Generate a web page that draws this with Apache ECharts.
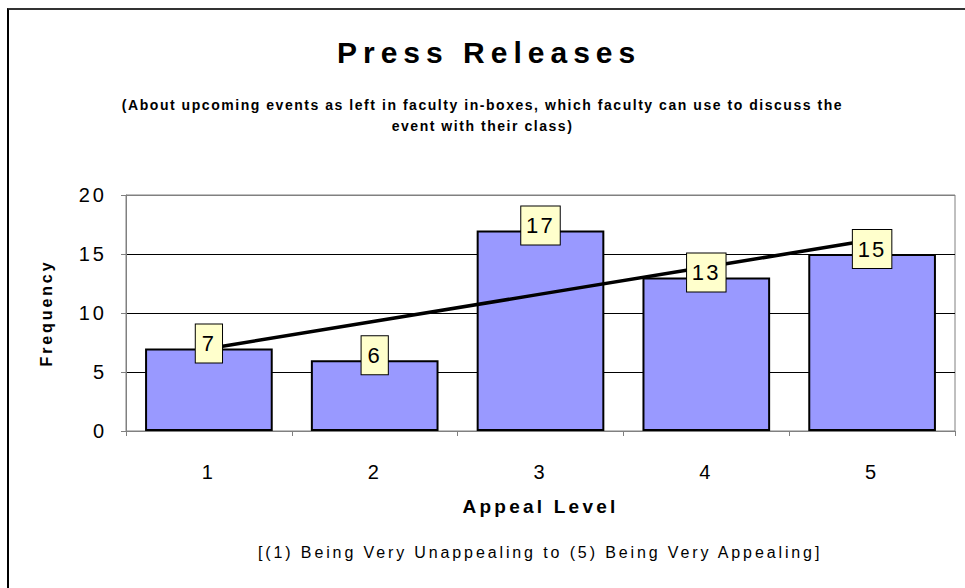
<!DOCTYPE html>
<html>
<head>
<meta charset="utf-8">
<title>Press Releases</title>
<script src="https://cdn.jsdelivr.net/npm/echarts@6/dist/echarts.min.js"></script>
<style>
  html, body { margin: 0; padding: 0; background: #fff; }
  #chart { width: 965px; height: 588px; }
  /* the source chart spreads its letters out */
  #chart text { letter-spacing: 0.2em; }
  .frame {
    position: absolute; left: 7px; top: 8px; right: 0; bottom: 0;
    border-top: 2px solid #333; border-left: 2px solid #000;
    pointer-events: none;
  }
</style>
</head>
<body>
<div id="chart"></div>
<div class="frame"></div>
<script>
const categories = ['1', '2', '3', '4', '5'];
const frequency = [7, 6, 17, 13, 15];
// linear trend line
const trend = [7.0, 9.3, 11.6, 13.9, 16.2];
const yMin = 0, yMax = 20, yStep = 5;

const font = 'Liberation Sans, Arial, sans-serif';

// letter spacing per font size (px -> css value)
const spacing = { 14: '0.11em', 16: '0.18em', 19: '0.17em', 20: '0.15em', 22: '0.1em' };

const chart = echarts.init(document.getElementById('chart'), null, { renderer: 'svg' });

function applySpacing() {
  chart.getDom().querySelectorAll('text').forEach(t => {
    const size = Math.round(parseFloat(getComputedStyle(t).fontSize));
    if (spacing[size]) t.style.letterSpacing = spacing[size];
  });
}
chart.on('rendered', applySpacing);

chart.setOption({
  animation: false,
  textStyle: { fontFamily: font, color: '#000' },
  title: [
    {
      text: 'Press Releases',
      left: 337,
      top: 37,
      padding: 0,
      textStyle: { fontFamily: font, fontSize: 30, fontWeight: 'bold', color: '#000' }
    },
    {
      text: '(About upcoming events as left in faculty in-boxes, which faculty can use to discuss the\nevent with their class)',
      left: 'center',
      top: 94,
      padding: 0,
      textStyle: { fontFamily: font, fontSize: 14, fontWeight: 'bold', color: '#000', lineHeight: 21 }
    },
    {
      text: '[(1) Being Very Unappealing to (5) Being Very Appealing]',
      left: 258,
      top: 544,
      padding: 0,
      textStyle: { fontFamily: font, fontSize: 16, fontWeight: 'normal', color: '#000' }
    }
  ],
  grid: {
    left: 126, right: 10, top: 195, bottom: 157,
    show: true, borderColor: '#808080', borderWidth: 1
  },
  xAxis: {
    type: 'category',
    data: categories,
    name: 'Appeal Level',
    nameLocation: 'middle',
    nameGap: 66,
    nameTextStyle: { fontFamily: font, fontSize: 19, fontWeight: 'bold', color: '#000' },
    axisLine: { lineStyle: { color: '#808080', width: 1 } },
    axisTick: { show: true, length: 5, lineStyle: { color: '#808080' } },
    axisLabel: { fontFamily: font, fontSize: 20, color: '#000', margin: 31 }
  },
  yAxis: {
    type: 'value',
    min: yMin, max: yMax, interval: yStep,
    name: 'Frequency',
    nameLocation: 'middle',
    nameGap: 72,
    nameTextStyle: { fontFamily: font, fontSize: 16, fontWeight: 'bold', color: '#000' },
    axisLine: { show: true, lineStyle: { color: '#808080', width: 1 } },
    axisTick: { show: true, length: 5, lineStyle: { color: '#808080' } },
    axisLabel: { fontFamily: font, fontSize: 20, color: '#000', margin: 19 },
    splitLine: { show: true, lineStyle: { color: ['#000', '#000', '#000', '#000', '#808080'], width: 1 } }
  },
  series: [
    {
      type: 'bar',
      data: frequency,
      barWidth: '77%',
      z: 2,
      itemStyle: { color: '#9999FF', borderColor: '#000', borderWidth: 2 }
    },
    {
      type: 'line',
      data: trend,
      symbol: 'none',
      silent: true,
      z: 3,
      lineStyle: { color: '#000', width: 3.5 }
    },
    {
      // value boxes sit above the trend line
      type: 'scatter',
      data: frequency,
      symbolSize: 0,
      silent: true,
      z: 4,
      itemStyle: { opacity: 1 },
      label: {
        show: true,
        position: 'inside',
        offset: [0, -5],
        formatter: '{c}',
        fontFamily: font,
        fontSize: 22,
        lineHeight: 22,
        color: '#000',
        opacity: 1,
        textBorderWidth: 0,
        backgroundColor: '#FFFFCC',
        borderColor: '#000',
        borderWidth: 1,
        padding: [8, 7]
      }
    }
  ]
});
applySpacing();
</script>
</body>
</html>
